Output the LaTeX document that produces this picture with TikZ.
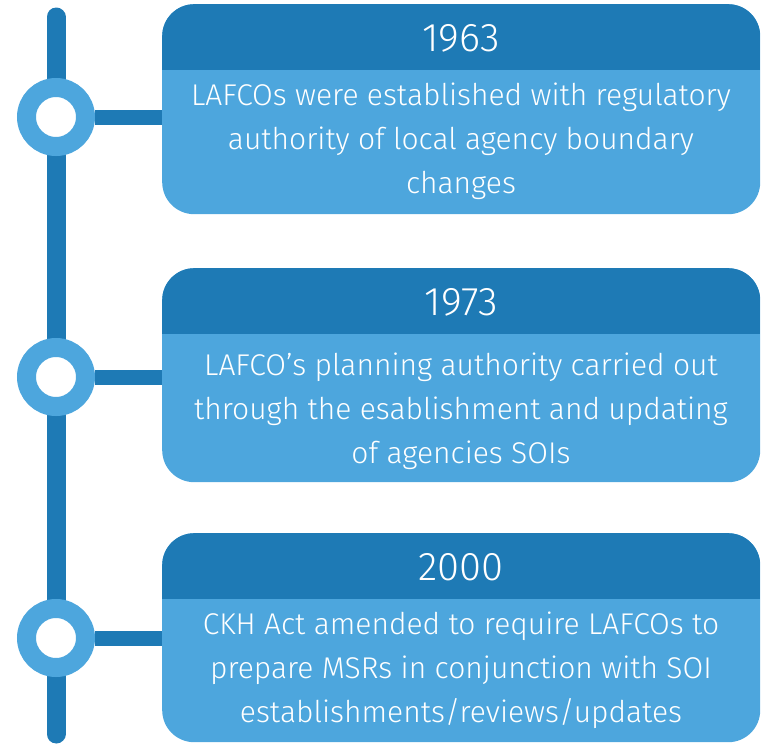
\documentclass[tikz,border=0pt]{standalone}
\usepackage{fontspec}
\setmainfont{Fira Sans Light}
\definecolor{darkblue}{HTML}{1E7AB5}
\definecolor{lightblue}{HTML}{4DA6DD}
\tikzset{
  card/.style={fill=lightblue, rounded corners=32pt, anchor=north west,
    minimum width=598pt, minimum height=#1, inner sep=0pt,
    path picture={\fill[darkblue, sharp corners] (path picture bounding box.north west)
      rectangle ([yshift=-66pt]path picture bounding box.north east);}},
  year/.style={text=white, font=\fontsize{40}{44}\selectfont},
  note/.style={text=white, align=center, font=\fontsize{30}{44}\selectfont},
  ring/.style={circle, draw=lightblue, line width=19pt, fill=white,
    minimum size=59pt, inner sep=0pt},
  rail/.style={draw=darkblue, line width=19pt, line cap=round},
  link/.style={draw=darkblue, line width=15pt}
}
\begin{document}
\begin{tikzpicture}[x=1pt,y=-1pt]
  \useasboundingbox (0,0) rectangle (765,744);
  % timeline rail
  \coordinate (top) at (56,17);
  \coordinate (bottom) at (56,734);
  \draw[rail] (top) -- (bottom);
  % cards
  \node[card=210pt] (c1) at (162,4) {};
  \node[card=214pt] (c2) at (162,268) {};
  \node[card=209pt] (c3) at (162,533) {};
  \node[year] (y1) at (461,38) {1963};
  \node[year] (y2) at (461,302) {1973};
  \node[year] (y3) at (461,567) {2000};
  \node[note] (t1) at (461,141) {LAFCOs were established with regulatory\\
    authority of local agency boundary\\ changes};
  \node[note] (t2) at (461,411) {LAFCO’s planning authority carried out\\
    through the esablishment and updating\\ of agencies SOIs};
  \node[note] (t3) at (461,670) {CKH Act amended to require LAFCOs to\\
    prepare MSRs in conjunction with SOI\\ establishments/reviews/updates};
  % rings on the rail
  \node[ring] (r1) at (56,117) {};
  \node[ring] (r2) at (56,377) {};
  \node[ring] (r3) at (56,638) {};
  \draw[link] (r1.east) -- (r1.east -| c1.west);
  \draw[link] (r2.east) -- (r2.east -| c2.west);
  \draw[link] (r3.east) -- (r3.east -| c3.west);
\end{tikzpicture}
\end{document}
